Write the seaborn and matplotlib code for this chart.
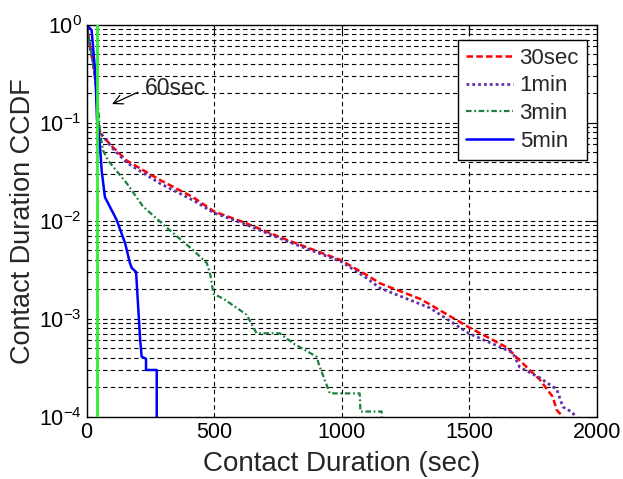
import matplotlib
matplotlib.use('Agg')
import matplotlib.pyplot as plt
import seaborn as sns
from matplotlib.ticker import LogLocator, FixedLocator, NullFormatter

# values (CCDF of contact duration)
red_x = [0, 14, 25, 41, 45, 53, 104, 158, 288, 417, 500, 613, 770, 992, 1097, 1149,
         1305, 1345, 1497, 1646, 1709, 1775, 1826, 1842, 1866]
red_y = [1.0, 0.59, 0.41, 0.21, 0.10, 0.078, 0.056, 0.041, 0.026, 0.0174, 0.0124, 0.0097,
         0.0066, 0.0040, 0.0028, 0.0023, 0.0016, 0.0014, 0.00082, 0.00051, 0.00035,
         0.00024, 0.00016, 0.000117, 0.0001]

purple_x = [0, 14, 25, 41, 45, 53, 104, 158, 288, 417, 500, 613, 770, 1000, 1097, 1150,
            1345, 1497, 1670, 1697, 1775, 1842, 1866, 1905, 1913]
purple_y = [1.0, 0.6, 0.42, 0.21, 0.10, 0.08, 0.054, 0.039, 0.024, 0.0162, 0.0120, 0.0094,
            0.0064, 0.0038, 0.0026, 0.00205, 0.00129, 0.00071, 0.00045, 0.00032, 0.00025,
            0.00019, 0.000126, 0.00011, 0.0001]

green_x = [0, 14, 25, 41, 53, 65, 85, 158, 221, 275, 326, 418, 471, 484, 497, 536, 627,
           666, 757, 810, 901, 914, 953, 1070, 1073, 1156, 1156]
green_y = [1.0, 0.6, 0.42, 0.21, 0.08, 0.052, 0.041, 0.024, 0.014, 0.0105, 0.0080, 0.0050,
           0.0037, 0.0029, 0.0018, 0.0016, 0.0011, 0.00071, 0.00071, 0.00056, 0.00041,
           0.00032, 0.000173, 0.000173, 0.000113, 0.000113, 0.0001]

blue_x = [0, 8, 20, 33, 37, 41, 53, 59, 72, 92, 118, 151, 170, 177, 194, 203, 210, 216,
          233, 233, 275, 275]
blue_y = [1.0, 0.95, 0.88, 0.35, 0.215, 0.107, 0.057, 0.033, 0.0174, 0.0138, 0.0102,
          0.0059, 0.0037, 0.0033, 0.0030, 0.00123, 0.00061, 0.00041, 0.00039, 0.00030,
          0.00030, 0.0001]

labels = ['30sec', '1min', '3min', '5min']
cutoff = 40

sns.set_style('white')
plt.rcParams['font.family'] = ['Liberation Sans', 'DejaVu Sans']
plt.rcParams['mathtext.fontset'] = 'custom'
plt.rcParams['mathtext.rm'] = 'Liberation Sans'

fig = plt.figure(figsize=(6.23, 4.79), dpi=100)
ax = fig.add_axes([0.1389, 0.130, 0.8195, 0.8184])

series = [(red_x, red_y, '#FF0000', (0, (2.6, 1.3)), 1.8),
          (purple_x, purple_y, '#6030A8', (0, (1, 1.1)), 2.0),
          (green_x, green_y, '#1A8040', (0, (2.5, 1.2, 0.8, 1.2)), 1.6),
          (blue_x, blue_y, '#0000FF', '-', 1.8)]
for (xs, ys, c, ls, lw), lab in zip(series, labels):
    sns.lineplot(x=xs, y=ys, ax=ax, color=c, linestyle=ls, linewidth=lw,
                 estimator=None, sort=False, label=lab)

ax.axvline(cutoff, color='#33EE33', linewidth=2, zorder=5)

ax.set_yscale('log')
ax.set_xlim(0, 2000)
ax.set_ylim(1e-4, 1)
ax.xaxis.set_major_locator(FixedLocator([0, 500, 1000, 1500, 2000]))
ax.yaxis.set_major_locator(LogLocator(base=10, numticks=10))
ax.yaxis.set_minor_locator(LogLocator(base=10, subs=range(2, 10), numticks=10))
ax.yaxis.set_minor_formatter(NullFormatter())
ax.grid(True, which='both', axis='y', color='black', linestyle=(0, (4, 3)), linewidth=0.8)
ax.grid(True, which='major', axis='x', color='black', linestyle=(0, (4, 3)), linewidth=0.8)
ax.set_axisbelow(True)

ax.tick_params(which='both', direction='in', top=True, right=True, labelsize=15.5,
               colors='black')
ax.tick_params(which='major', length=6)
ax.tick_params(which='minor', length=3)
for s in ax.spines.values():
    s.set_color('black')
    s.set_linewidth(1.0)

ax.set_xlabel('Contact Duration (sec)', fontsize=20, labelpad=6)
ax.set_ylabel('Contact Duration CCDF', fontsize=19.5, labelpad=2)

ax.annotate('60sec', xy=(100, 0.155), xytext=(229, 0.221), fontsize=16.5, va='center',
            ha='left',
            arrowprops=dict(arrowstyle='->', color='black', lw=0.9,
                            relpos=(0, 0.5), shrinkA=3, shrinkB=0))

leg = ax.legend(loc='upper right', bbox_to_anchor=(0.98, 0.961), fontsize=16,
                frameon=True, fancybox=False, framealpha=1, edgecolor='black',
                handlelength=2.1, handletextpad=0.3, borderpad=0.35,
                labelspacing=0.3, borderaxespad=0)
leg.get_frame().set_linewidth(1.0)

fig.savefig('out.png', dpi=100)
